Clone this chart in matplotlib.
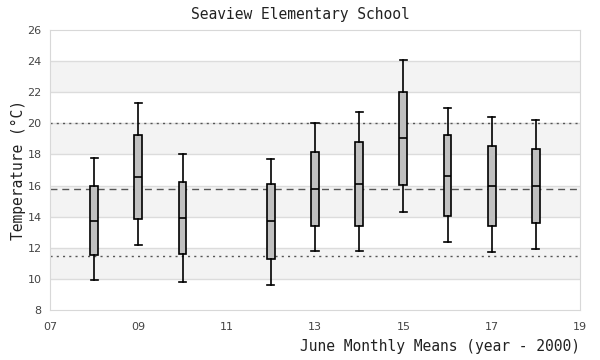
import matplotlib
matplotlib.use("Agg")
import matplotlib.pyplot as plt

# June monthly means, box stats per year (offset from 2000)
years = [8, 9, 10, 12, 13, 14, 15, 16, 17, 18]
whis_lo = [9.93, 12.16, 9.79, 9.59, 11.80, 11.80, 14.28, 12.36, 11.73, 11.91]
q1 = [11.54, 13.83, 11.58, 11.26, 13.38, 13.38, 16.04, 14.05, 13.38, 13.58]
med = [13.72, 16.53, 13.90, 13.70, 15.76, 16.10, 19.06, 16.62, 15.97, 15.97]
q3 = [15.97, 19.23, 16.23, 16.08, 18.14, 18.78, 22.00, 19.23, 18.54, 18.33]
whis_hi = [17.77, 21.29, 18.01, 17.73, 20.00, 20.71, 24.05, 20.97, 20.39, 20.22]

overall_mean = 15.75
upper_lim = 20.02
lower_lim = 11.48

mono = "DejaVu Sans Mono"

fig = plt.figure(figsize=(6, 3.6), dpi=100)
ax = fig.add_axes([50 / 600, 1 - 310 / 360, 530 / 600, 280 / 360])

# alternating bands
for lo in range(10, 26, 4):
    ax.axhspan(lo, lo + 2, color="#f3f3f3", zorder=0, lw=0)
for y in range(10, 26, 2):
    ax.axhline(y, color="#dcdcdc", lw=1, zorder=1)

ax.axhline(upper_lim, color="#555555", lw=1, ls=(0, (1.5, 3)), zorder=2)
ax.axhline(lower_lim, color="#555555", lw=1, ls=(0, (1.5, 3)), zorder=2)
ax.axhline(overall_mean, color="#555555", lw=1, ls=(0, (5, 3.5)), zorder=2)

stats = []
for i in range(len(years)):
    stats.append(dict(whislo=whis_lo[i], q1=q1[i], med=med[i], q3=q3[i],
                      whishi=whis_hi[i], fliers=[]))

ax.bxp(stats, positions=years, widths=0.18, patch_artist=True,
       showfliers=False, manage_ticks=False,
       boxprops=dict(facecolor="#c0c0c0", edgecolor="black", lw=1.2),
       medianprops=dict(color="black", lw=1.2),
       whiskerprops=dict(color="black", lw=1.2),
       capprops=dict(color="black", lw=1.2),
       capwidths=0.16, zorder=3)

ax.set_xlim(7, 19)
ax.set_ylim(8, 26)
ax.set_xticks(range(7, 20, 2))
ax.set_xticklabels(["%02d" % v for v in range(7, 20, 2)])
ax.set_yticks(range(8, 27, 2))
ax.tick_params(length=0, labelsize=8, labelcolor="#444444", pad=6)
ax.tick_params(axis="x", pad=9)
for s in ax.spines.values():
    s.set_color("#d8d8d8")

fig.text(0.5, 1 - 14 / 360, "Seaview Elementary School", family=mono,
         fontsize=10.5, color="#222222", ha="center", va="center")
fig.text(580 / 600, 1 - 347 / 360, "June Monthly Means (year - 2000)",
         family=mono, fontsize=10.5, color="#222222", ha="right", va="center")
fig.text(18 / 600, 0.5 + 10 / 360, "Temperature (°C)", family=mono,
         fontsize=10.5, color="#222222", ha="center", va="center",
         rotation=90)

fig.savefig("out.png", dpi=100)
